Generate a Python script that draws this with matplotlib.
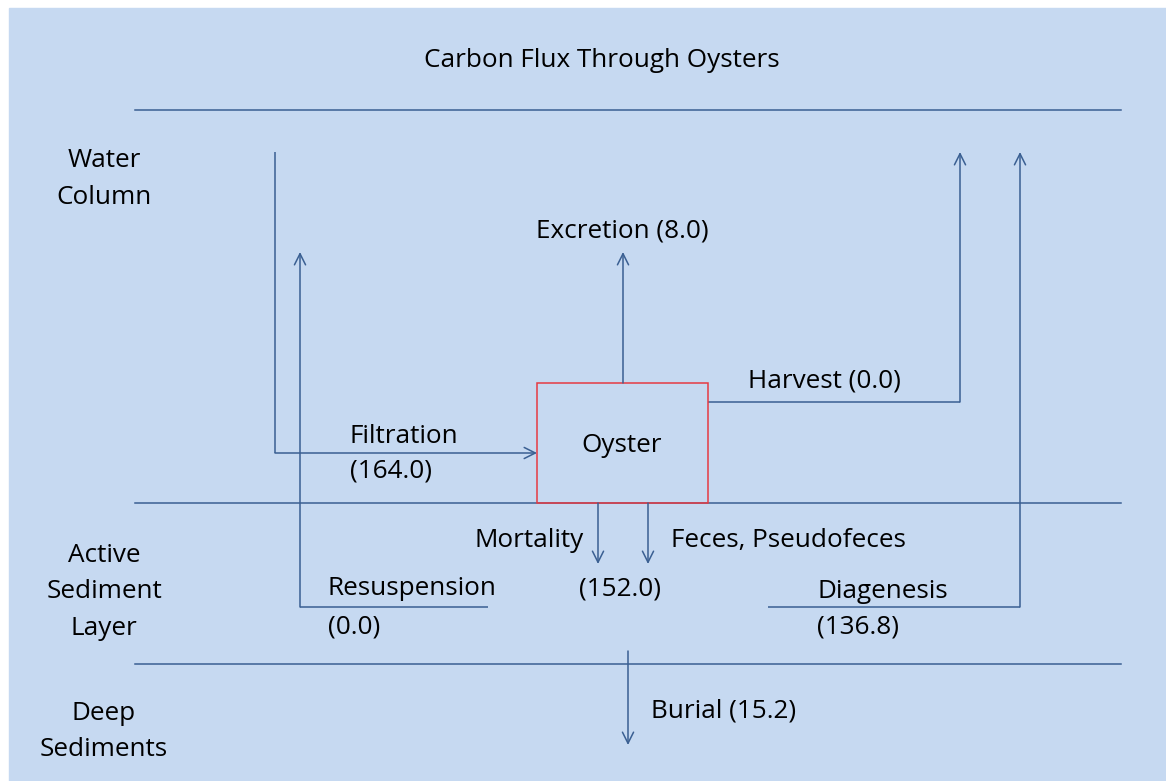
import matplotlib
matplotlib.use('Agg')
from matplotlib import pyplot as plt
from matplotlib.patches import Rectangle

# carbon flux values through the oyster compartment
flux_names = ['Filtration', 'Excretion', 'Harvest', 'Mortality + Feces',
              'Resuspension', 'Diagenesis', 'Burial']
flux_values = [164.0, 8.0, 0.0, 152.0, 0.0, 136.8, 15.2]
flux = dict(zip(flux_names, flux_values))

layer_labels = [['Water', 'Column'], ['Active', 'Sediment', 'Layer'],
                ['Deep', 'Sediments']]

line_c = '#3A5F92'
bg_c = '#C6D9F1'
font = 'Open Sans'
fs = 18.8

fig = plt.figure(figsize=(11.66, 7.81), dpi=100)
ax = fig.add_axes([0, 0, 1, 1])
ax.set_xlim(0, 1166)
ax.set_ylim(781, 0)
ax.axis('off')

ax.add_patch(Rectangle((9, 8), 1157, 773, color=bg_c, zorder=0))


def txt(x, y, s, ha='left'):
    ax.text(x, y, s, ha=ha, va='baseline', fontsize=fs, family=font, color='black')


def path(xs, ys, arrow=True):
    # polyline with an open arrowhead on the last segment
    if len(xs) > 2:
        ax.plot(xs[:-1], ys[:-1], color=line_c, lw=1.1, solid_capstyle='butt')
    if arrow:
        ax.annotate('', xy=(xs[-1], ys[-1]), xytext=(xs[-2], ys[-2]),
                    arrowprops=dict(arrowstyle='->', color=line_c, lw=1.1,
                                    shrinkA=0, shrinkB=0, mutation_scale=20))
    else:
        ax.plot(xs[-2:], ys[-2:], color=line_c, lw=1.1)


# layer boundaries
for yy in [110, 503, 664]:
    ax.plot([135, 1121], [yy, yy], color=line_c, lw=1.1)

txt(602, 67, 'Carbon Flux Through Oysters', ha='center')

# layer names
for start, lines in zip([167, 562, 720], layer_labels):
    for i, s in enumerate(lines):
        txt(104, start + i * 36.5, s, ha='center')

# oyster box
ax.add_patch(Rectangle((537, 383), 171, 120, fill=False, ec='#E63B43', lw=1.1, zorder=3))
txt(622, 452, 'Oyster', ha='center')

# filtration
path([275, 275, 537], [152, 453, 453])
txt(350, 443, 'Filtration')
txt(350, 477, '(%.1f)' % flux['Filtration'])

# excretion
path([623, 623], [383, 252])
txt(622, 237, 'Excretion (%.1f)' % flux['Excretion'], ha='center')

# harvest
path([708, 960, 960], [402, 402, 152])
txt(748, 387, 'Harvest (%.1f)' % flux['Harvest'])

# mortality and feces
path([598, 598], [503, 564])
path([648, 648], [503, 564])
txt(584, 547, 'Mortality', ha='right')
txt(671, 547, 'Feces, Pseudofeces')
txt(620, 596, '(%.1f)' % flux['Mortality + Feces'], ha='center')

# resuspension
path([488, 300, 300], [607, 607, 252])
txt(328, 595, 'Resuspension')
txt(328, 633, '(%.1f)' % flux['Resuspension'])

# diagenesis
path([768, 1020, 1020], [607, 607, 152])
txt(817, 598, 'Diagenesis')
txt(817, 633, '(%.1f)' % flux['Diagenesis'])

# burial
path([628, 628], [651, 745])
txt(651, 717, 'Burial (%.1f)' % flux['Burial'])

fig.savefig('out.png', dpi=100, facecolor='white')
